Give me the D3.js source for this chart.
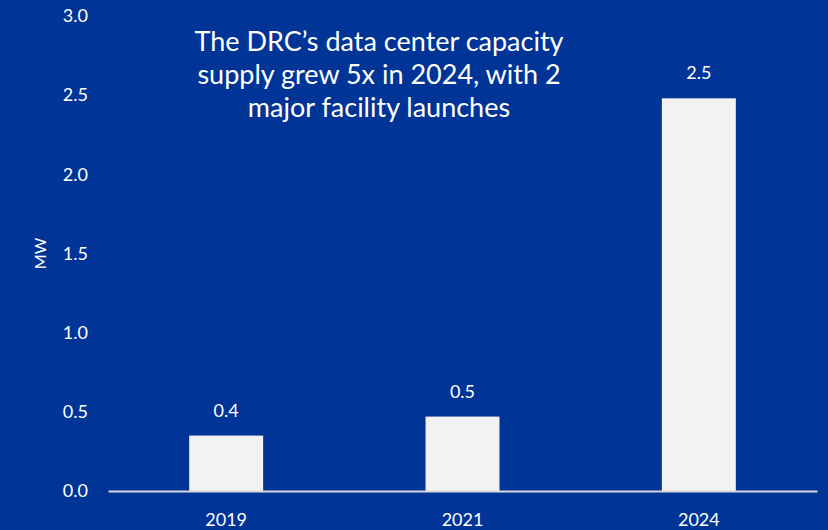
<!DOCTYPE html>
<html>
<head>
<meta charset="utf-8">
<script src="https://cdn.jsdelivr.net/npm/d3@7"></script>
<style>
  body { margin: 0; background: #003597; }
  svg { display: block; font-family: Lato, "Open Sans", sans-serif; }
</style>
</head>
<body>
<div id="chart"></div>
<script>
// Chart data
const years = ["2019", "2021", "2024"];
const capacity = [0.35, 0.47, 2.48];
const valueLabels = ["0.4", "0.5", "2.5"];
const yTicks = [0, 0.5, 1.0, 1.5, 2.0, 2.5, 3.0];
const titleLines = [
    "The DRC\u2019s data center capacity",
    "supply grew 5x in 2024, with 2",
    "major facility launches"
];

const width = 828, height = 530;
const margin = { top: 16, right: 11, bottom: 39, left: 108 };

const svg = d3.select("#chart")
    .append("svg")
    .attr("width", width)
    .attr("height", height);

svg.append("rect")
    .attr("width", width)
    .attr("height", height)
    .attr("fill", "#003597");

// Scales
const x = d3.scaleBand()
    .domain(years)
    .range([margin.left, width - margin.right])
    .paddingInner(0.687)
    .paddingOuter(0.3435);

const y = d3.scaleLinear()
    .domain([0, 3])
    .range([height - margin.bottom, margin.top]);

// Y axis labels (no axis line)
const yAxis = d3.axisLeft(y)
    .tickValues(yTicks)
    .tickFormat(d3.format(".1f"))
    .tickSize(0)
    .tickPadding(20);

svg.append("g")
    .attr("class", "y-axis")
    .attr("transform", `translate(${margin.left},0)`)
    .call(yAxis)
    .call(g => g.select(".domain").remove())
    .selectAll("text")
    .attr("fill", "#ffffff")
    .attr("font-size", 18)
    .attr("font-family", "Lato, 'Open Sans', sans-serif");

// Bars
svg.selectAll(".bar")
    .data(years)
    .enter()
    .append("rect")
    .attr("class", "bar")
    .attr("x", d => x(d))
    .attr("width", x.bandwidth())
    .attr("y", (d, i) => y(capacity[i]))
    .attr("height", (d, i) => y(0) - y(capacity[i]))
    .attr("fill", "#f2f2f2");

// Value labels
svg.selectAll(".value")
    .data(years)
    .enter()
    .append("text")
    .attr("class", "value")
    .attr("x", d => x(d) + x.bandwidth() / 2)
    .attr("y", (d, i) => y(capacity[i]) - 19)
    .attr("text-anchor", "middle")
    .attr("fill", "#ffffff")
    .attr("font-size", 18)
    .text((d, i) => valueLabels[i]);

// X axis
const xAxis = d3.axisBottom(x)
    .tickSize(0)
    .tickPadding(22);

svg.append("g")
    .attr("class", "x-axis")
    .attr("transform", `translate(0,${y(0)})`)
    .call(xAxis)
    .call(g => g.select(".domain")
        .attr("stroke", "#d9d9d9")
        .attr("stroke-width", 2))
    .selectAll("text")
    .attr("fill", "#ffffff")
    .attr("font-size", 18)
    .attr("font-family", "Lato, 'Open Sans', sans-serif");

// Axis title
svg.append("text")
    .attr("transform", `translate(46,${(y(0) + y(3)) / 2}) rotate(-90)`)
    .attr("text-anchor", "middle")
    .attr("fill", "#ffffff")
    .attr("font-size", 16)
    .text("MW");

// Chart title
svg.append("text")
    .attr("x", 379)
    .attr("y", 51)
    .attr("text-anchor", "middle")
    .attr("fill", "#ffffff")
    .attr("font-size", 27)
    .selectAll("tspan")
    .data(titleLines)
    .enter()
    .append("tspan")
    .attr("x", 379)
    .attr("dy", (d, i) => i === 0 ? 0 : 33)
    .text(d => d);
</script>
</body>
</html>
